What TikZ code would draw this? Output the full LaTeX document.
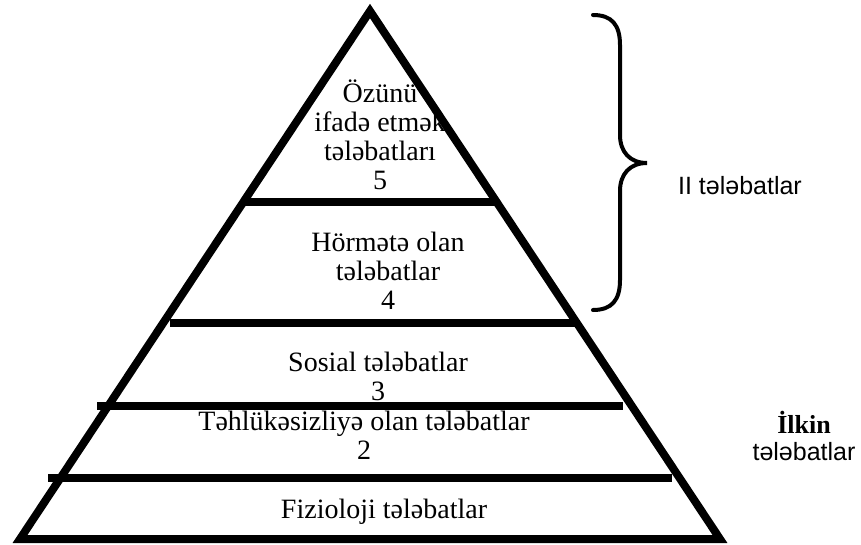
\documentclass[tikz,border=0pt]{standalone}
\usepackage{fontspec}
\setmainfont{Liberation Serif}
\newfontfamily\sidesans{Liberation Sans}
\usepackage{tikz}

\begin{document}
\begin{tikzpicture}[x=0.5pt,y=-0.5pt,
  bar/.style={line width=4pt},
  level text/.style={align=center,inner sep=0pt,font=\fontsize{14}{14.5}\selectfont},
  side text/.style={align=center,inner sep=0pt,font=\sidesans\fontsize{12.5}{13.5}\selectfont}]
  \useasboundingbox (0,0) rectangle (861,545);
  % pyramid
  \coordinate (apex) at (370,11);
  \coordinate (baseL) at (20,539);
  \coordinate (baseR) at (720,539);
  \draw[bar] (apex) -- (baseL) -- (baseR) -- cycle;
  \draw[bar] (245,202) -- (498,202);
  \draw[bar] (170,323) -- (575,323);
  \draw[bar] (97,406) -- (623,406);
  \draw[bar] (48,478) -- (672,478);
  % levels
  \node[level text] (selfexp) at (380,135) {Özünü\\ ifadə etmək\\ tələbatları\\ 5};
  \node[level text] (esteem) at (388,271) {Hörmətə olan\\ tələbatlar\\ 4};
  \node[level text] (social) at (378,376) {Sosial tələbatlar\\ 3};
  \node[level text] (safety) at (364,435) {Təhlükəsizliyə olan tələbatlar\\ 2};
  \node[level text,anchor=base] (physio) at (384,518) {Fizioloji tələbatlar};
  % brace
  \draw[line width=2pt,line cap=round]
    (593,15) .. controls (612,15) and (620,25) .. (620,45) -- (620,135)
    .. controls (620,152) and (630,163) .. (647,163)
    .. controls (630,163) and (620,174) .. (620,191) -- (620,280)
    .. controls (620,300) and (612,310) .. (593,310);
  \node[side text,anchor=base] (upper) at (740,195) {II tələbatlar};
  \node[side text,anchor=base] (primary) at (804,460)
    {\rmfamily\bfseries\fontsize{13}{13.5}\selectfont İlkin\\ tələbatlar};
\end{tikzpicture}
\end{document}
